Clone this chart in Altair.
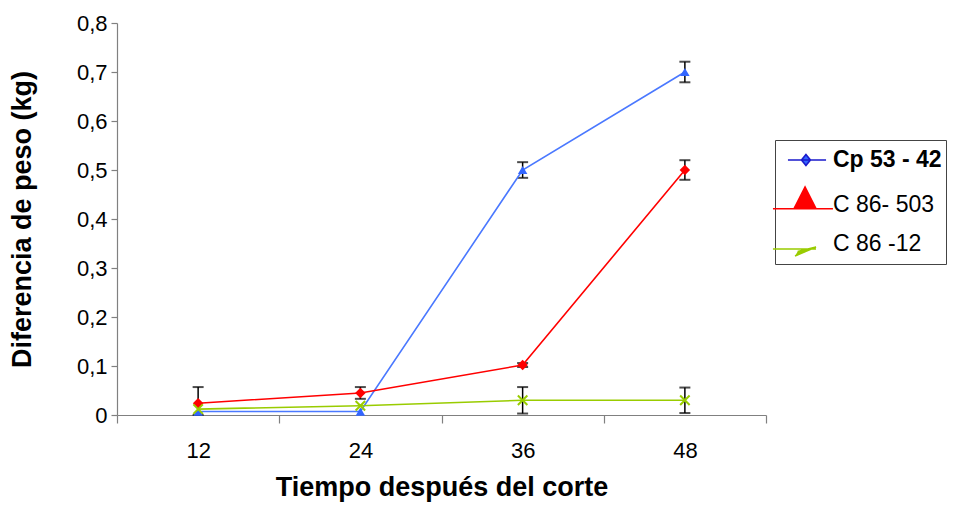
import altair as alt
import pandas as pd

# ---- data ----
tiempos = ["12", "24", "36", "48"]
series = ["Cp 53 - 42", "C 86- 503", "C 86 -12"]
cp53 = [0.007, 0.007, 0.5, 0.7]
c86_503 = [0.024, 0.045, 0.102, 0.5]
c86_12 = [0.012, 0.019, 0.03, 0.03]
err_cp53 = [0.0, 0.0, 0.016, 0.021]
err_503_top = [0.033, 0.012, 0.004, 0.02]
err_12 = [0.0, 0.0, 0.027, 0.026]

values = [cp53, c86_503, c86_12]
errors = [err_cp53, err_503_top, err_12]

line_colors = ["#4A78FF", "#FF0000", "#99CC00"]
legend_fill = ["#3366FF", "#FF0000", "#99CC00"]
legend_stroke = ["#1A1ACC", "#FF0000", "#99CC00"]

FONT = "Liberation Sans"

# long tables built from the arrays
rows = []
for s, vals in zip(series, values):
    for t, v in zip(tiempos, vals):
        rows.append({"serie": s, "tiempo": t, "valor": v})
long_df = pd.DataFrame(rows)

err_rows = []
for s, vals, errs in zip(series, values, errors):
    for t, v, e in zip(tiempos, vals, errs):
        if e > 0:
            err_rows.append({"serie": s, "tiempo": t, "lo": max(0.0, v - e), "hi": v + e})
err_df = pd.DataFrame(err_rows)

y_ticks = [0, 0.1, 0.2, 0.3, 0.4, 0.5, 0.6, 0.7, 0.8]

x_scale = alt.Scale(type="band", domain=tiempos, paddingInner=0, paddingOuter=0)
y_scale = alt.Scale(domain=[0, 0.8], nice=False, zero=True)

x_axis = alt.Axis(
    title="Tiempo después del corte", labelAngle=0, tickBand="extent", tickSize=8,
    domainColor="#808080", tickColor="#808080", domainWidth=1.2, tickWidth=1.2,
    labelFont=FONT, labelFontSize=22, labelColor="black", labelPadding=17,
    titleFont=FONT, titleFontSize=27, titleFontWeight="bold", titleColor="black",
    titlePadding=13, grid=False,
)
y_axis = alt.Axis(
    title="Diferencia de peso (kg)", values=y_ticks,
    labelExpr="datum.value == 0 ? '0' : replace(format(datum.value, '.1f'), '.', ',')",
    tickSize=6, domainColor="#808080", tickColor="#808080", domainWidth=1.2, tickWidth=1.2,
    labelFont=FONT, labelFontSize=22, labelColor="black", labelPadding=4,
    titleFont=FONT, titleFontSize=27, titleFontWeight="bold", titleColor="black",
    titlePadding=40, grid=False,
)

X = alt.X("tiempo:N", scale=x_scale, axis=x_axis, sort=tiempos)

layers = []

# error bars (black)
err_base = alt.Chart(err_df)
layers.append(
    err_base.mark_rule(color="black", strokeWidth=1.5).encode(
        x=X, y=alt.Y("lo:Q", scale=y_scale, axis=y_axis), y2="hi:Q"
    )
)
layers.append(
    err_base.mark_tick(color="black", size=11, thickness=2, orient="horizontal").encode(
        x=X, y=alt.Y("hi:Q", scale=y_scale, axis=y_axis)
    )
)
layers.append(
    err_base.mark_tick(color="black", size=11, thickness=2, orient="horizontal").encode(
        x=X, y=alt.Y("lo:Q", scale=y_scale, axis=y_axis)
    )
)

marker_specs = [
    dict(shape="triangle-up", filled=True, color="#3366FF", size=90),
    dict(shape="diamond", filled=True, color="#FF0000", size=110),
    dict(shape="M-1,-1L1,1M-1,1L1,-1", filled=False, color="#99CC00", size=90, strokeWidth=2),
]

for s, col, ms in zip(series, line_colors, marker_specs):
    d = long_df[long_df["serie"] == s]
    base = alt.Chart(d)
    layers.append(
        base.mark_line(color=col, strokeWidth=1.6).encode(
            x=X, y=alt.Y("valor:Q", scale=y_scale, axis=y_axis)
        )
    )
    layers.append(
        base.mark_point(opacity=1, **ms).encode(
            x=X, y=alt.Y("valor:Q", scale=y_scale, axis=y_axis)
        )
    )

# legend symbols: line + marker as custom paths (unit = 15px)
legend_paths = [
    "M-0.47,0L2.07,0M0.73,-0.37L1.03,0L0.73,0.37L0.43,0Z",
    "M-1.47,0.25L2.53,0.25M-0.07,0.25L0.67,-1.2L1.4,0.25Z",
    "M-1.47,0.33L1.4,0.33M0,0.8L1.4,0.2L0.18,0.5",
]

legend = alt.Legend(
    title=None, orient="none", legendX=658, legendY=117,
    symbolSize=900, symbolStrokeWidth=1.6, symbolOpacity=1,
    labelFont=FONT, labelFontSize=23, labelColor="black", labelOffset=22,
    padding=4, rowPadding=11, strokeColor="#444444", labelLimit=300,
    labelFontWeight={"expr": "datum.label === 'Cp 53 - 42' ? 'bold' : 'normal'"},
)

layers.append(
    alt.Chart(long_df).mark_point(filled=True, opacity=0).encode(
        x=X, y=alt.Y("valor:Q", scale=y_scale, axis=y_axis),
        fill=alt.Fill("serie:N", scale=alt.Scale(domain=series, range=legend_fill), legend=legend, sort=series),
        stroke=alt.Stroke("serie:N", scale=alt.Scale(domain=series, range=legend_stroke), legend=legend, sort=series),
        shape=alt.Shape("serie:N", scale=alt.Scale(domain=series, range=legend_paths), legend=legend, sort=series),
    )
)

chart = alt.layer(*layers).properties(
    width=649, height=392,
    autosize=alt.AutoSizeParams(type="none"),
    padding={"left": 109, "top": 15, "right": 184, "bottom": 87},
    background="white",
).configure_view(stroke=None)

chart.save("out.html", embed_options={"renderer": "svg", "actions": False})
